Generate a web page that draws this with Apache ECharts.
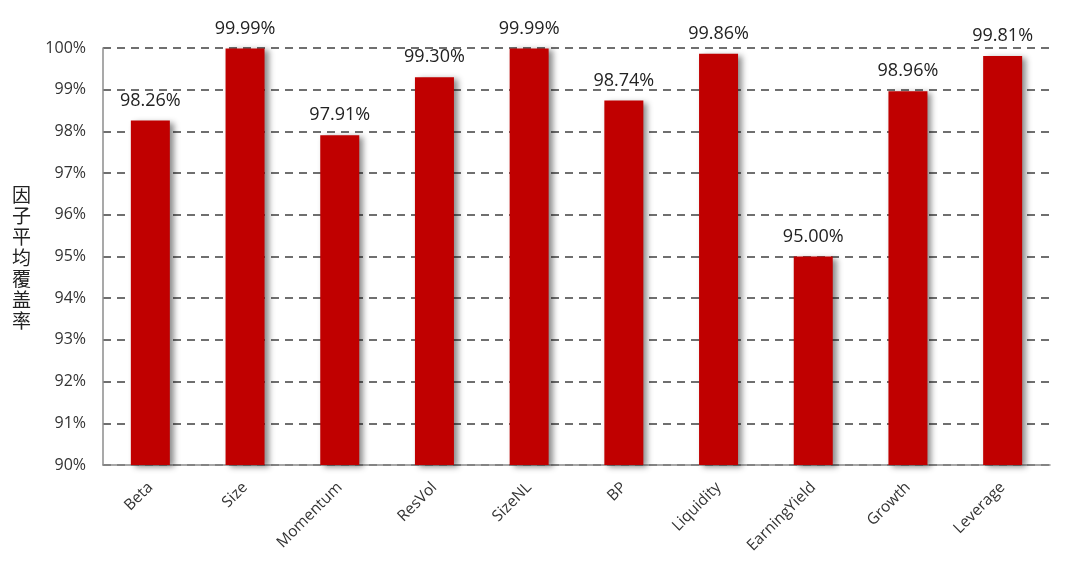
<!DOCTYPE html>
<html><head><meta charset="utf-8">
<script src="https://cdn.jsdelivr.net/npm/echarts@6/dist/echarts.min.js"></script>
<style>html,body{margin:0;padding:0;background:#fff}#c{width:1068px;height:588px}</style>
</head><body><div id="c"></div>
<script>
const categories = ['Beta','Size','Momentum','ResVol','SizeNL','BP','Liquidity','EarningYield','Growth','Leverage'];
const values = [98.26, 99.99, 97.91, 99.30, 99.99, 98.74, 99.86, 95.00, 98.96, 99.81];
const yName = '因子平均覆盖率';
const chart = echarts.init(document.getElementById('c'), null, {renderer:'canvas'});
chart.setOption({
  animation:false,
  backgroundColor:'#fff',
  grid:{left:103, right:18, top:48, bottom:123},
  xAxis:{type:'category', data:categories,
    axisLine:{lineStyle:{color:'#8c8c8c', width:1.5}},
    axisTick:{show:false},
    axisLabel:{rotate:45, color:'#333', fontSize:15.5, fontFamily:'Open Sans', margin:20, interval:0}
  },
  yAxis:{type:'value', min:90, max:100, interval:1,
    axisLine:{show:true, lineStyle:{color:'#8c8c8c', width:1.5}},
    axisTick:{show:false},
    axisLabel:{color:'#333', fontSize:16, fontFamily:'Open Sans', margin:17, formatter:v=>v+'%'},
    splitLine:{show:true, lineStyle:{color:'#404040', width:1.5, type:[8,6]}}
  },
  graphic:[{type:'text', left:12, top:184, style:{text:yName.split('').join('\n'), fill:'#222', font:'19px "Noto Sans CJK SC"', lineHeight:21}}],
  series:[{type:'bar', data:values, barWidth:39,
    itemStyle:{color:'#c00000', shadowColor:'rgba(0,0,0,0.45)', shadowBlur:6, shadowOffsetX:4, shadowOffsetY:2},
    label:{show:true, position:'top', distance:11, color:'#222', fontSize:18, fontFamily:'Open Sans', formatter:p=>p.value.toFixed(2)+'%'}
  }]
});
</script></body></html>
